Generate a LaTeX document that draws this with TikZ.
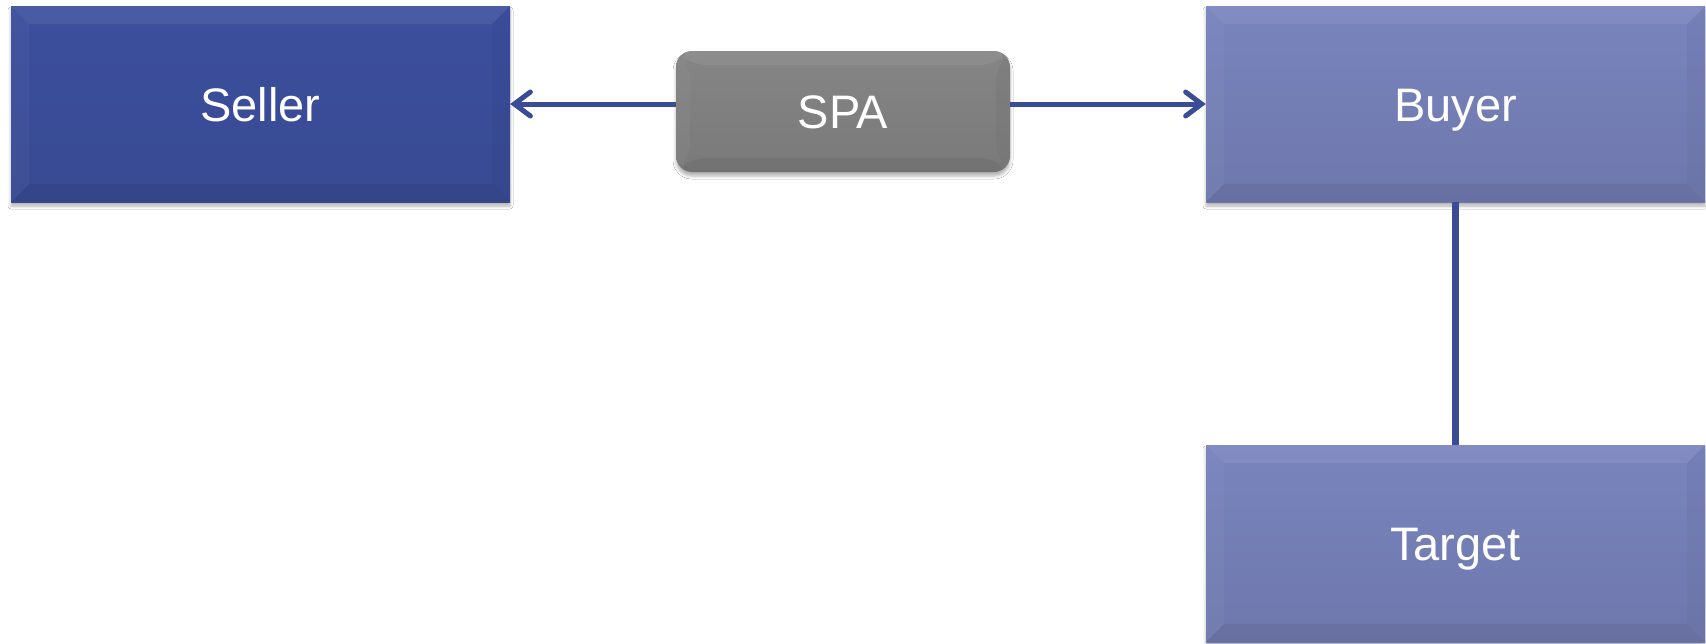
\documentclass[tikz,border=0pt]{standalone}
\usepackage{fontspec}
\setmainfont{Liberation Sans}
\usetikzlibrary{arrows.meta,shadows.blur}
\definecolor{sellerc}{HTML}{384A92}
\definecolor{sellertop}{HTML}{3C4F9E}
\definecolor{buyerc}{HTML}{6E78AC}
\definecolor{buyertop}{HTML}{7984BE}
\definecolor{spac}{HTML}{7A7A7A}
\definecolor{spatop}{HTML}{858585}
\definecolor{linec}{HTML}{3A4C96}
\tikzset{
  x=1pt,y=1pt,
  bevel/.style={path picture={
    \def\pb{path picture bounding box}
    \fill[white,opacity=0.07] (\pb.north west) -- (\pb.north east) -- ([xshift=-#1,yshift=-#1]\pb.north east) -- ([xshift=#1,yshift=-#1]\pb.north west) -- cycle;
    \fill[white,opacity=0.03] (\pb.north west) -- (\pb.south west) -- ([xshift=#1,yshift=#1]\pb.south west) -- ([xshift=#1,yshift=-#1]\pb.north west) -- cycle;
    \fill[black,opacity=0.06] (\pb.south west) -- (\pb.south east) -- ([xshift=-#1,yshift=#1]\pb.south east) -- ([xshift=#1,yshift=#1]\pb.south west) -- cycle;
    \fill[black,opacity=0.03] (\pb.north east) -- (\pb.south east) -- ([xshift=-#1,yshift=#1]\pb.south east) -- ([xshift=-#1,yshift=-#1]\pb.north east) -- cycle;
  }},
  boxbase/.style={rectangle, inner sep=0pt, text=white,
    font=\fontsize{47}{56}\selectfont, text height=34pt, text depth=0pt,
    blur shadow={shadow xshift=0pt, shadow yshift=-4pt, shadow blur radius=3pt, shadow opacity=30}},
  sellerbox/.style={boxbase, top color=sellertop, bottom color=sellerc, bevel=18pt},
  buyerbox/.style={boxbase, top color=buyertop, bottom color=buyerc, bevel=18pt},
  spabox/.style={boxbase, rounded corners=16pt, top color=spatop, bottom color=spac, bevel=14pt},
  arr/.style={draw=linec, line width=5pt, -{Straight Barb[length=16pt,width=24pt,line cap=round]}},
  vline/.style={draw=linec, line width=7pt}
}
\begin{document}
\begin{tikzpicture}
\fill[white] (0,0) rectangle (1706,-643);
\useasboundingbox (0,0) rectangle (1706,-643);
\node[sellerbox, minimum width=499pt, minimum height=196pt] (seller) at (260.5,-104) {Seller};
\node[buyerbox, minimum width=499pt, minimum height=196pt] (buyer) at (1455.5,-104) {Buyer};
\node[buyerbox, minimum width=499pt, minimum height=197pt] (target) at (1455.5,-543.5) {Target};
\node[spabox, minimum width=334pt, minimum height=121pt] (spa) at (843,-111.5) {SPA};
\draw[arr] (spa.west |- seller.east) -- (seller.east);
\draw[arr] (spa.east |- buyer.west) -- (buyer.west);
\draw[vline] (buyer.south) -- (target.north);
\end{tikzpicture}
\end{document}
